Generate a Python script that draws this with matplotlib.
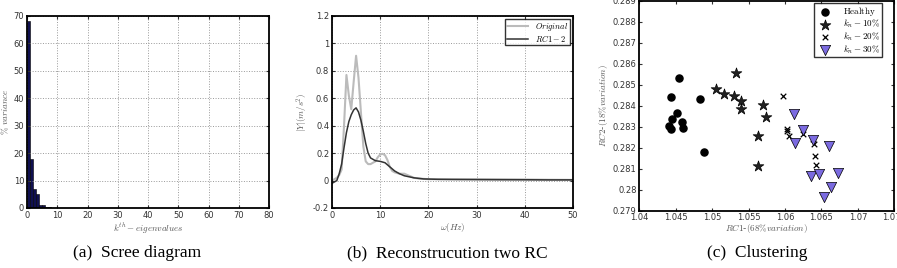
import matplotlib
matplotlib.use('Agg')
from matplotlib import pyplot as plt
from matplotlib.ticker import FormatStrFormatter

# (a) scree diagram
eig_idx = [0, 1, 2, 3, 4, 5, 6, 7, 8, 9]
eig_var = [68, 18, 7, 5, 1, 1, 0.5, 0.2, 0.1, 0.1]

# (b) spectrum, original vs reconstruction
orig_w = [0, 1, 1.5, 2, 2.5, 3, 3.5, 4, 4.5, 5, 5.5, 6, 6.5, 7, 7.5, 8, 8.5, 9, 9.5, 10, 10.5, 11, 11.5, 12, 12.5, 13, 14, 15, 16, 17, 18, 20, 25, 30, 35, 40, 45, 50]
orig_y = [0.0, 0.02, 0.04, 0.08, 0.4, 0.77, 0.62, 0.52, 0.72, 0.91, 0.75, 0.5, 0.25, 0.14, 0.12, 0.12, 0.13, 0.14, 0.17, 0.19, 0.195, 0.185, 0.15, 0.1, 0.07, 0.06, 0.05, 0.05, 0.035, 0.02, 0.015, 0.01, 0.01, 0.01, 0.01, 0.008, 0.006, 0.005]
rc_w = [0, 1, 1.5, 2, 2.5, 3, 3.5, 4, 4.5, 5, 5.5, 6, 6.5, 7, 7.5, 8, 9, 10, 11, 12, 13, 14, 15, 17, 19, 22, 25, 30, 35, 40, 45, 50]
rc_y = [-0.02, 0.0, 0.05, 0.12, 0.24, 0.35, 0.43, 0.48, 0.515, 0.53, 0.5, 0.44, 0.36, 0.27, 0.2, 0.165, 0.145, 0.14, 0.13, 0.1, 0.07, 0.05, 0.035, 0.02, 0.012, 0.009, 0.008, 0.007, 0.006, 0.006, 0.005, 0.005]

# (c) clustering
healthy_x = [1.04544, 1.04435, 1.04833, 1.04522, 1.04448, 1.04590, 1.04412, 1.04435, 1.04604, 1.04892]
healthy_y = [0.28532, 0.28440, 0.28434, 0.28366, 0.28338, 0.28325, 0.28306, 0.28290, 0.28292, 0.28180]
k10_x = [1.05322, 1.05052, 1.05167, 1.05304, 1.05391, 1.05391, 1.05697, 1.05734, 1.05624, 1.05633]
k10_y = [0.28559, 0.28480, 0.28458, 0.28447, 0.28424, 0.28383, 0.28404, 0.28347, 0.28257, 0.28112]
k20_x = [1.05972, 1.06022, 1.06054, 1.06251, 1.06379, 1.06402, 1.06406, 1.06429, 1.06030]
k20_y = [0.28445, 0.28289, 0.28254, 0.28267, 0.28243, 0.28219, 0.28162, 0.28118, 0.28282]
k30_x = [1.06123, 1.06251, 1.06141, 1.06384, 1.06608, 1.06352, 1.06461, 1.06727, 1.06631, 1.06535]
k30_y = [0.28361, 0.28285, 0.28222, 0.28235, 0.28208, 0.28064, 0.28077, 0.28082, 0.28011, 0.27966]

plt.rcParams['mathtext.fontset'] = 'cm'
plt.rcParams['font.size'] = 6

fig = plt.figure(figsize=(8.97, 2.68), dpi=100)
ax0 = fig.add_axes([0.0301, 0.2239, 0.2698, 0.7164])
ax1 = fig.add_axes([0.3701, 0.2239, 0.2687, 0.7164])
ax2 = fig.add_axes([0.7127, 0.2138, 0.2843, 0.7825])

def style(ax):
    ax.grid(True, linestyle=':', color='#999999', linewidth=0.7)
    ax.tick_params(direction='in', top=True, right=True, labelsize=6, colors='#333333', length=2.5, pad=2)
    for s in ax.spines.values():
        s.set_linewidth(1.3)

ax0.bar(eig_idx, eig_var, width=1, align='edge', color='#101050', edgecolor='k', linewidth=0.4)
ax0.set_xlim(0, 80)
ax0.set_ylim(0, 70)
ax0.set_xlabel(r'$k^{th}-eigenvalues$', fontsize=6.5, color='#555555', labelpad=1)
ax0.set_ylabel(r'$\%\ variance$', fontsize=6.5, color='#555555', labelpad=2)
style(ax0)

ax1.plot(orig_w, orig_y, color='#bbbbbb', linewidth=1.5, label=r'$Original$')
ax1.plot(rc_w, rc_y, color='#333333', linewidth=1.1, label=r'$RC1-2$')
ax1.set_xlim(0, 50)
ax1.set_ylim(-0.2, 1.2)
ax1.yaxis.set_major_formatter(FormatStrFormatter('%g'))
ax1.set_xlabel(r'$\omega(Hz)$', fontsize=6.5, color='#555555', labelpad=1)
ax1.set_ylabel(r'$|Y|(m/s^2)$', fontsize=6.5, color='#555555', labelpad=2)
leg = ax1.legend(loc='upper right', fontsize=6, fancybox=False, edgecolor='k',
                 borderpad=0.15, labelspacing=0.0, handlelength=2.6, borderaxespad=0.4)
leg.get_frame().set_linewidth(1.0)
style(ax1)

ax2.scatter(healthy_x, healthy_y, s=26, marker='o', color='k', label=r'$\mathrm{Healthy}$', zorder=3)
ax2.scatter(k10_x, k10_y, s=65, marker='*', color='#222222', edgecolors='k', linewidths=0.5, label=r'$k_n-10\%$', zorder=3)
ax2.scatter(k20_x, k20_y, s=16, marker='x', color='k', linewidths=0.9, label=r'$k_n-20\%$', zorder=3)
ax2.scatter(k30_x, k30_y, s=55, marker='v', color='#7b6be0', edgecolors='k', linewidths=0.5, label=r'$k_n-30\%$', zorder=3)
ax2.set_xlim(1.04, 1.075)
ax2.set_ylim(0.279, 0.289)
ax2.set_xticks([1.04, 1.045, 1.05, 1.055, 1.06, 1.065, 1.07, 1.075])
ax2.set_yticks([0.279 + 0.001 * i for i in range(11)])
ax2.xaxis.set_major_formatter(FormatStrFormatter('%g'))
ax2.yaxis.set_major_formatter(FormatStrFormatter('%g'))
ax2.set_xlabel(r'$RC1$-$(68\%variation)$', fontsize=6.5, color='#555555', labelpad=0)
ax2.set_ylabel(r'$RC2$-$(18\%variation)$', fontsize=6.5, color='#555555', labelpad=2)
leg2 = ax2.legend(loc='upper right', bbox_to_anchor=(0.952, 0.99), fontsize=6.5, fancybox=False,
                  edgecolor='k', borderpad=0.2, labelspacing=0.0, handletextpad=1.0,
                  borderaxespad=0, scatterpoints=1)
leg2.get_frame().set_linewidth(1.0)
ax2.tick_params(direction='in', top=True, right=True, labelsize=6, colors='#333333', length=2.5, pad=2)
for s in ax2.spines.values():
    s.set_linewidth(1.3)

fig.text(0.153, 0.04, '(a)  Scree diagram', family='Liberation Serif', fontsize=12.5, ha='center')
fig.text(0.499, 0.04, '(b)  Reconstrucution two RC', family='Liberation Serif', fontsize=12.5, ha='center')
fig.text(0.844, 0.04, '(c)  Clustering', family='Liberation Serif', fontsize=12.5, ha='center')

fig.savefig('out.png', dpi=100)
